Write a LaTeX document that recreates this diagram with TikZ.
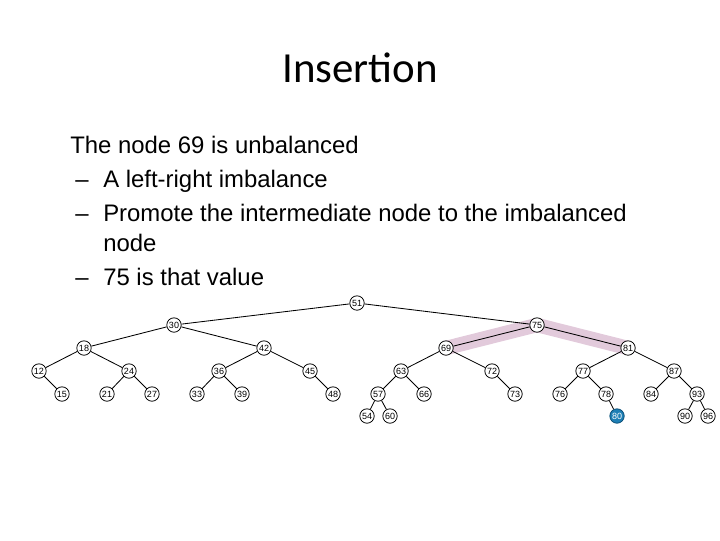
\documentclass[tikz,border=0pt]{standalone}
\usepackage{fontspec}
\setmainfont{Liberation Sans}
\newfontfamily\titlefont{Carlito}
\usetikzlibrary{backgrounds}
\definecolor{ink}{HTML}{000000}
\definecolor{band}{HTML}{E2CADB}
\definecolor{hit}{HTML}{1E7FB5}
\definecolor{hitedge}{HTML}{0B4F78}
\tikzset{
  key/.style={circle, draw=ink, fill=white, line width=0.55pt, minimum size=0.36cm,
              inner sep=0pt, font=\fontsize{6.4}{7}\selectfont},
  newkey/.style={key, fill=hit, draw=hitedge, text=white},
  link/.style={draw=ink, line width=0.6pt},
  bullet/.style={anchor=base west, inner sep=0pt, font=\fontsize{17}{20}\selectfont}
}

\begin{document}
\begin{tikzpicture}[x=0.025cm,y=-0.025cm]
  \useasboundingbox (0,0) rectangle (720,540);
  % heading and text
  \node[anchor=base, inner sep=0pt, font=\titlefont\fontsize{30.5}{34}\selectfont] (title) at (360,82) {Insertion};
  \node[bullet] (l1) at (70,153) {The node 69 is unbalanced};
  \node[bullet] (d2) at (75,187) {--};
  \node[bullet] (l2) at (103,187) {A left-right imbalance};
  \node[bullet] (d3) at (75,221) {--};
  \node[bullet] (l3) at (103,221) {Promote the intermediate node to the imbalanced};
  \node[bullet] (l4) at (103,251) {node};
  \node[bullet] (d5) at (75,285) {--};
  \node[bullet] (l5) at (103,285) {75 is that value};
  % tree keys
  \node[key] (n51) at (357,303) {51};
  \node[key] (n30) at (174,325) {30};
  \node[key] (n75) at (537,325) {75};
  \node[key] (n18) at (84,348) {18};
  \node[key] (n42) at (264,348) {42};
  \node[key] (n69) at (446,348) {69};
  \node[key] (n81) at (628,348) {81};
  \node[key] (n12) at (39,371) {12};
  \node[key] (n24) at (129,371) {24};
  \node[key] (n36) at (219,371) {36};
  \node[key] (n45) at (310,371) {45};
  \node[key] (n63) at (401,371) {63};
  \node[key] (n72) at (492,371) {72};
  \node[key] (n77) at (583,371) {77};
  \node[key] (n87) at (674,371) {87};
  \node[key] (n15) at (62,394) {15};
  \node[key] (n21) at (107,394) {21};
  \node[key] (n27) at (152,394) {27};
  \node[key] (n33) at (197,394) {33};
  \node[key] (n39) at (242,394) {39};
  \node[key] (n48) at (333,394) {48};
  \node[key] (n57) at (378,394) {57};
  \node[key] (n66) at (424,394) {66};
  \node[key] (n73) at (515,394) {73};
  \node[key] (n76) at (560,394) {76};
  \node[key] (n78) at (606,394) {78};
  \node[key] (n84) at (651,394) {84};
  \node[key] (n93) at (697,394) {93};
  \node[key] (n54) at (367,416) {54};
  \node[key] (n60) at (390,416) {60};
  \node[newkey] (n80) at (617,416) {80};
  \node[key] (n90) at (685,416) {90};
  \node[key] (n96) at (708,416) {96};
  % edges
  \foreach \a/\b in {51/30,51/75,30/18,30/42,75/69,75/81,18/12,18/24,42/36,42/45,
                     69/63,69/72,81/77,81/87,12/15,24/21,24/27,36/33,36/39,45/48,
                     63/57,63/66,72/73,77/76,77/78,87/84,87/93,57/54,57/60,78/80,
                     93/90,93/96}
    \draw[link] (n\a) -- (n\b);
  % highlighted path
  \begin{scope}[on background layer]
    \draw[band, line width=0.36cm, line join=round, line cap=round]
      (n69.center) -- (n75.center) -- (n81.center);
  \end{scope}
\end{tikzpicture}
\end{document}
